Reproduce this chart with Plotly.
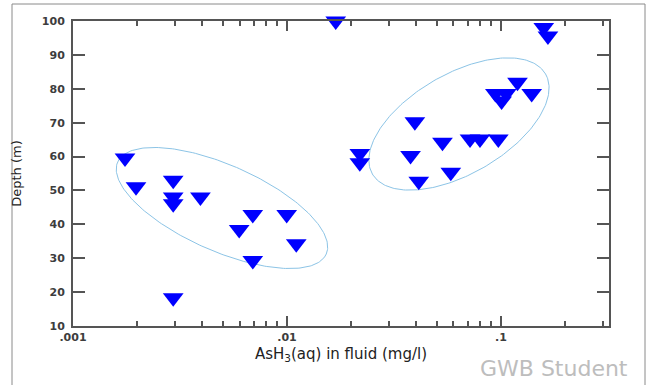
import numpy as np
import plotly.graph_objects as go

# ---- data ----
ash3_mgl = [0.0169, 0.1585, 0.1658,
            0.00175, 0.00197, 0.00294, 0.00294, 0.00294, 0.00394, 0.00692,
            0.00997, 0.00598, 0.01105, 0.00692, 0.00294,
            0.0219, 0.0219, 0.0396, 0.0378, 0.0413, 0.0533, 0.0583,
            0.0717, 0.0798, 0.0972, 0.0942, 0.1059, 0.1007, 0.1195, 0.1392]
depth_m = [100.0, 98.1, 95.6,
           59.6, 51.1, 53.0, 48.1, 46.1, 48.1, 42.9,
           42.9, 38.5, 34.3, 29.3, 18.3,
           60.9, 58.2, 70.3, 60.3, 52.7, 64.2, 55.4,
           65.2, 65.2, 65.2, 78.6, 78.6, 76.4, 81.9, 78.6]

x_tickvals = [0.001, 0.01, 0.1]
x_ticktext = [".001", ".01", ".1"]
x_minor = [m * d for d in (0.001, 0.01) for m in range(2, 10)] + [0.2, 0.3]
y_tickvals = [10, 20, 30, 40, 50, 60, 70, 80, 90, 100]

# ellipses drawn around the two groups: centre (x, depth), semi-axes in px, tilt in deg
ellipse_centre_x = [0.004968, 0.06364]
ellipse_centre_y = [44.82, 69.61]
ellipse_a_px = [114, 100]
ellipse_b_px = [43, 50]
ellipse_tilt = [-23.8, 30.0]

# ---- layout geometry ----
W, H = 651, 385
ML, MR, MT, MB = 73, 42, 21, 59
x_range = [-3.0, -0.495]
y_range = [10, 100]
pw = W - ML - MR
ph = H - MT - MB
px_per_dec = pw / (x_range[1] - x_range[0])
px_per_m = ph / (y_range[1] - y_range[0])

fig = go.Figure()

t = np.linspace(0, 2 * np.pi, 241)
for cx, cy, a, b, ang in zip(ellipse_centre_x, ellipse_centre_y, ellipse_a_px,
                             ellipse_b_px, ellipse_tilt):
    th = np.radians(ang)
    u = a * np.cos(t) * np.cos(th) - b * np.sin(t) * np.sin(th)
    v = a * np.cos(t) * np.sin(th) + b * np.sin(t) * np.cos(th)
    ex = 10 ** (np.log10(cx) + u / px_per_dec)
    ey = cy + v / px_per_m
    fig.add_trace(go.Scatter(x=ex, y=ey, mode="lines",
                             line=dict(color="#8cc4e6", width=1),
                             hoverinfo="skip", showlegend=False))

fig.add_trace(go.Scatter(x=ash3_mgl, y=depth_m, mode="markers",
                         marker=dict(symbol="triangle-down", size=18,
                                     color="#0000ff", line=dict(width=0)),
                         cliponaxis=False, showlegend=False))

tick_font = dict(family="DejaVu Sans", size=11, color="#3d3d3d", weight="bold")
axis_col = "#555555"

fig.update_xaxes(type="log", range=x_range, showline=True, linecolor=axis_col,
                 linewidth=2, mirror="ticks", ticks="inside", ticklen=10,
                 tickwidth=2, tickcolor=axis_col, tickvals=x_tickvals,
                 ticktext=x_ticktext, showgrid=False, zeroline=False,
                 tickfont=tick_font,
                 minor=dict(tickvals=x_minor, ticks="inside", ticklen=5,
                            tickwidth=2, tickcolor=axis_col, showgrid=False),
                 title=dict(text="AsH<sub>3</sub>(aq) in fluid (mg/l)",
                            font=dict(family="DejaVu Sans", size=15, color="#222222"),
                            standoff=5))
fig.update_yaxes(range=y_range, showline=True, linecolor=axis_col, linewidth=2,
                 mirror="ticks", ticks="inside", ticklen=12, tickwidth=2,
                 tickcolor=axis_col, tickvals=y_tickvals, showgrid=False,
                 zeroline=False, tickfont=tick_font, ticklabelstandoff=4,
                 title=dict(text="Depth (m)",
                            font=dict(family="DejaVu Sans", size=13, color="#222222"),
                            standoff=17))

# outer frame
fig.add_shape(type="rect", xref="paper", yref="paper",
              x0=(12 - ML) / pw, x1=(645 - ML) / pw,
              y0=(ph + MT - 395) / ph, y1=(ph + MT - 4) / ph,
              line=dict(color="#8a8a8a", width=1), layer="below")

fig.add_annotation(text="GWB Student", xref="paper", yref="paper",
                   x=(554 - ML) / pw, y=(ph + MT - 368) / ph,
                   xanchor="center", yanchor="middle", showarrow=False,
                   font=dict(family="DejaVu Sans", size=22, color="#bdbdbd"))

fig.update_layout(width=W, height=H, margin=dict(l=ML, r=MR, t=MT, b=MB),
                  paper_bgcolor="white", plot_bgcolor="white",
                  font=dict(family="DejaVu Sans"))

fig.write_html("out.html", config={"displayModeBar": False},
               post_script="document.body.style.margin='0';"
                           "document.body.style.overflow='hidden';")
